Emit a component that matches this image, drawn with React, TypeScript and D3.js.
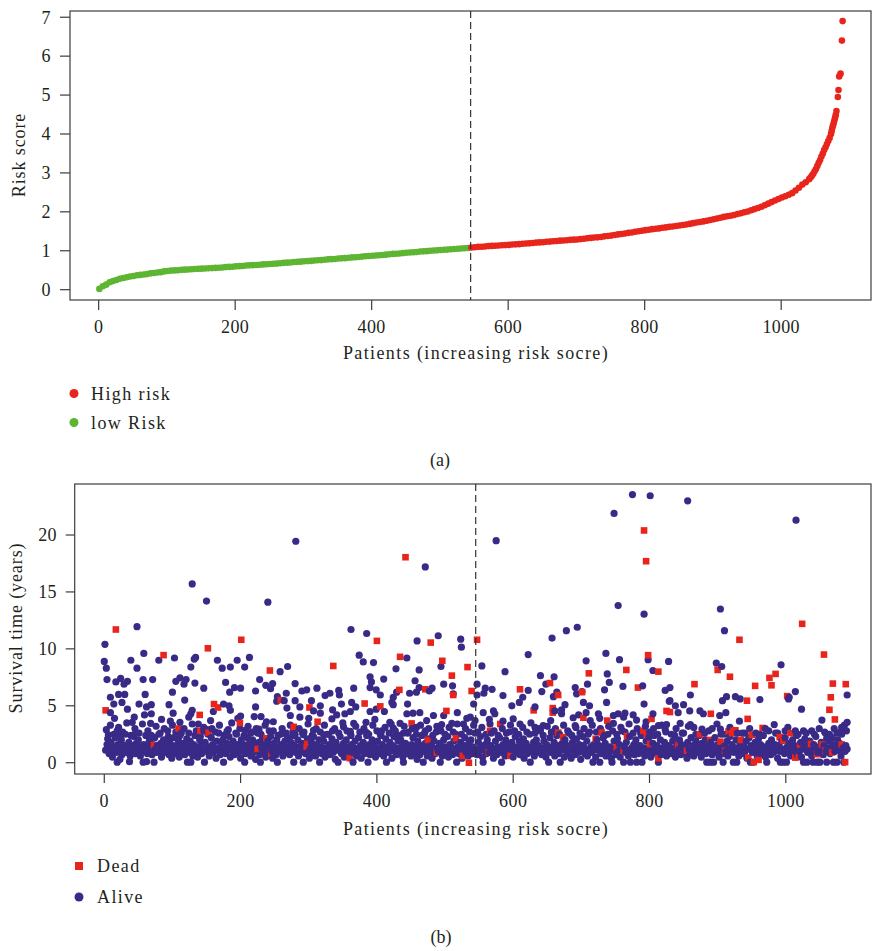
import React, { useEffect, useRef } from 'react';
import * as d3 from 'd3';

// Panel (a): sorted risk scores, read every 5 patients (patients 1, 6, 11, ...)
const lowRiskScores = [
  0.02, 0.09, 0.13, 0.19, 0.22, 0.25, 0.28, 0.30, 0.32, 0.34, 0.35, 0.37, 0.38, 0.39, 0.40, 0.42,
  0.43, 0.44, 0.45, 0.47, 0.48, 0.49, 0.495, 0.50, 0.51, 0.515, 0.52, 0.525, 0.53, 0.535, 0.54,
  0.545, 0.55, 0.555, 0.56, 0.565, 0.57, 0.58, 0.585, 0.59, 0.60, 0.605, 0.61, 0.62, 0.625, 0.63,
  0.635, 0.64, 0.65, 0.655, 0.66, 0.665, 0.67, 0.68, 0.69, 0.695, 0.70, 0.71, 0.715, 0.72, 0.73,
  0.735, 0.74, 0.75, 0.755, 0.76, 0.77, 0.78, 0.785, 0.79, 0.80, 0.805, 0.81, 0.82, 0.83, 0.835,
  0.84, 0.85, 0.86, 0.865, 0.87, 0.88, 0.885, 0.89, 0.90, 0.91, 0.92, 0.925, 0.93, 0.94, 0.95,
  0.955, 0.96, 0.97, 0.98, 0.985, 0.99, 1.00, 1.005, 1.01, 1.02, 1.025, 1.03, 1.04, 1.045, 1.05,
  1.06, 1.065, 1.07,
];
// patients 546, 551, ..., 1041
const highRiskScores = [
  1.085, 1.09, 1.10, 1.105, 1.11, 1.12, 1.125, 1.13, 1.135, 1.14,
  1.145, 1.15, 1.16, 1.165, 1.17, 1.18, 1.185, 1.19, 1.20, 1.21,
  1.215, 1.22, 1.23, 1.235, 1.245, 1.25, 1.26, 1.265, 1.27, 1.28,
  1.285, 1.29, 1.30, 1.31, 1.32, 1.33, 1.34, 1.345, 1.355, 1.37,
  1.38, 1.39, 1.405, 1.42, 1.43, 1.445, 1.46, 1.47, 1.49, 1.50,
  1.515, 1.53, 1.54, 1.555, 1.565, 1.575, 1.59, 1.60, 1.615, 1.625,
  1.635, 1.65, 1.66, 1.675, 1.69, 1.71, 1.725, 1.74, 1.755, 1.77,
  1.79, 1.81, 1.83, 1.85, 1.87, 1.885, 1.90, 1.92, 1.945, 1.965,
  1.99, 2.01, 2.04, 2.07, 2.10, 2.13, 2.17, 2.21, 2.25, 2.29,
  2.33, 2.37, 2.40, 2.44, 2.48, 2.55, 2.62, 2.70, 2.76, 2.84,
];
// steep tail [patient, score]
const riskTail = [
  [1043, 2.88], [1045, 2.93], [1047, 2.98], [1049, 3.04], [1051, 3.10], [1053, 3.18], [1055, 3.26],
  [1057, 3.33], [1059, 3.42], [1061, 3.50], [1063, 3.59], [1065, 3.66], [1067, 3.74], [1069, 3.82],
  [1071, 3.90], [1073, 4.00], [1074, 4.08], [1075, 4.16], [1076, 4.22], [1077, 4.28], [1078, 4.35],
  [1079, 4.42], [1080, 4.49], [1081, 4.59], [1083, 4.95], [1084, 5.13], [1085, 5.48], [1087, 5.55],
  [1089, 6.40], [1090, 6.90],
];
const cutoffPatient = 545;

// Panel (b): [patient, survival years]
const aliveUpper = [
  [129, 15.7], [150, 14.2], [240, 14.1], [48, 11.95], [1, 10.4], [0, 8.9], [3, 8.3], [58, 9.6], [39, 9.0],
  [48, 8.3], [80, 9.0], [103, 9.2], [127, 8.4], [132, 9.1], [134, 9.25], [166, 9.0], [173, 8.3], [185, 8.4],
  [195, 9.0], [206, 8.4], [213, 9.25], [228, 7.3], [4, 7.3], [17, 7.1], [24, 7.4], [29, 6.9], [34, 7.15],
  [57, 7.3], [71, 7.3], [105, 7.15], [111, 7.45], [117, 6.9], [120, 7.3], [133, 7.0], [146, 6.55], [178, 7.05],
  [184, 6.2], [191, 6.6], [200, 6.55], [222, 6.3], [237, 6.8], [244, 6.5], [9, 5.75], [21, 6.0], [30, 6.0],
  [60, 6.0], [100, 6.2], [14, 5.15], [26, 5.3], [34, 4.7], [51, 5.15], [69, 5.1], [95, 5.1], [118, 5.5],
  [9, 4.4], [59, 4.2], [69, 4.3], [101, 4.35], [127, 4.3], [129, 4.6], [124, 4.0], [160, 4.5], [175, 5.15],
  [183, 5.0], [185, 4.6], [200, 4.1], [222, 4.9], [220, 4.05], [230, 4.05], [44, 4.0], [41, 3.55], [68, 3.45],
  [97, 3.65], [111, 3.55], [138, 3.4], [146, 2.8], [180, 2.75], [207, 2.85], [215, 2.6], [227, 2.95], [6, 2.45],
  [19, 2.8], [24, 2.45], [46, 2.6], [15, 3.9], [84, 3.8], [156, 3.7], [196, 3.9], [238, 3.6], [62, 4.9],
  [281, 19.45], [471, 17.2], [362, 11.7], [385, 11.35], [459, 10.7], [490, 11.15], [523, 10.85], [524, 10.15],
  [374, 9.45], [380, 8.85], [395, 8.8], [444, 9.2], [428, 8.25], [462, 8.15], [494, 8.45], [258, 8.0], [269, 8.45],
  [390, 7.55], [392, 7.1], [410, 7.35], [456, 7.2], [462, 6.6], [498, 6.9], [511, 6.75], [512, 6.05], [247, 6.95],
  [280, 6.95], [290, 6.3], [297, 6.4], [312, 6.55], [324, 5.9], [331, 6.1], [344, 6.35], [345, 5.95], [366, 6.55],
  [254, 5.8], [267, 6.1], [390, 6.6], [399, 6.4], [405, 5.95], [424, 5.75], [429, 6.2], [448, 6.1], [458, 6.2],
  [477, 6.3], [481, 6.55], [253, 5.4], [264, 5.45], [280, 5.45], [304, 5.45], [317, 5.0], [348, 5.15], [363, 5.3],
  [422, 5.3], [424, 5.1], [445, 5.15], [268, 4.8], [287, 4.9], [307, 4.55], [317, 4.35], [335, 4.65], [361, 4.5],
  [369, 4.9], [390, 4.5], [399, 4.7], [411, 4.5], [444, 4.3], [453, 4.35], [463, 4.4], [483, 4.15], [498, 4.15],
  [518, 4.4], [273, 4.15], [287, 4.0], [334, 3.85], [341, 4.2], [353, 4.3], [366, 3.45], [384, 3.55], [419, 3.55],
  [434, 3.45], [458, 3.1], [471, 2.8], [495, 3.35], [510, 3.45], [527, 3.4], [248, 2.8], [263, 2.6], [277, 2.75],
  [292, 2.45], [307, 2.85], [322, 2.45], [335, 2.8], [351, 3.15], [361, 2.75], [385, 2.65], [407, 2.8], [424, 3.05],
  [439, 2.6], [300, 3.9], [397, 3.8], [473, 3.7], [532, 3.9],
  [775, 23.55], [801, 23.45], [748, 21.9], [575, 19.5], [754, 13.8], [792, 13.05], [657, 10.95], [678, 11.6],
  [694, 11.9], [622, 9.5], [707, 8.95], [736, 9.6], [756, 9.05], [798, 9.05], [805, 8.1], [828, 8.9], [554, 8.5],
  [588, 8.0], [640, 7.65], [660, 7.55], [648, 6.9], [738, 7.8], [741, 7.05], [790, 6.75], [709, 6.9], [547, 6.9],
  [559, 6.55], [569, 6.45], [557, 6.1], [547, 5.95], [585, 5.9], [622, 6.35], [642, 6.25], [664, 6.2], [659, 5.8],
  [691, 6.6], [693, 6.05], [701, 6.25], [734, 6.4], [761, 6.7], [792, 5.15], [823, 6.35], [829, 5.4], [542, 5.15],
  [598, 5.0], [609, 5.3], [614, 5.75], [632, 4.9], [661, 4.55], [671, 4.65], [676, 5.1], [703, 5.3], [712, 5.0],
  [737, 5.3], [556, 4.4], [573, 4.3], [571, 4.55], [671, 4.3], [696, 4.2], [707, 4.4], [725, 4.3], [747, 4.15],
  [754, 4.3], [764, 4.35], [776, 4.2], [805, 4.3], [537, 4.0], [544, 3.7], [585, 3.65], [600, 3.85], [610, 3.4],
  [632, 3.1], [644, 3.25], [688, 3.95], [691, 3.25], [713, 3.7], [747, 3.45], [762, 4.0], [781, 3.75], [813, 3.25],
  [825, 3.35], [565, 3.8], [655, 3.7], [727, 3.9], [795, 3.6],
  [856, 23.0], [1015, 21.3], [904, 13.5], [910, 11.6], [898, 8.75], [906, 8.45], [993, 8.6], [1014, 6.25],
  [1005, 5.75], [1004, 5.6], [1090, 5.95], [1023, 4.7], [962, 5.55], [907, 5.45], [913, 5.8], [926, 5.8],
  [933, 5.6], [830, 6.6], [860, 5.95], [830, 5.45], [838, 5.0], [850, 5.1], [859, 4.55], [842, 4.4], [874, 4.55],
  [879, 4.3], [903, 4.15], [912, 4.4], [932, 3.65], [1053, 3.75], [1090, 3.55], [845, 3.45], [860, 3.35],
  [865, 3.1], [877, 2.95], [887, 2.8], [899, 3.4], [904, 2.95], [940, 2.6], [956, 2.6], [975, 2.8], [983, 3.35],
  [999, 2.8], [1014, 2.8], [1026, 2.8], [1038, 2.8], [1060, 2.15], [1075, 2.6], [1082, 3.1],
];

const aliveBandLow = [
  [2, 1.1], [4, 1.6], [5, 2.1], [7, 0.8], [8, 1.3], [10, 1.8], [12, 0.5], [13, 1.0], [15, 1.4], [16, 2.2],
  [18, 0.9], [19, 0.05], [20, 1.6], [22, 1.2], [23, 0.3], [25, 2.0], [26, 0.7], [28, 1.1], [29, 1.5], [31, 2.5],
  [32, 0.9], [34, 1.3], [36, 1.8], [37, 0.1], [38, 0.6], [40, 1.0], [41, 1.5], [43, 2.3], [44, 1.2], [46, 0.8],
  [47, 1.7], [49, 1.1], [50, 2.0], [52, 1.4], [53, 0.6], [55, 1.0], [57, 0.05], [58, 1.6], [60, 1.2], [61, 2.4],
  [62, 0.1], [63, 0.8], [65, 1.4], [66, 1.9], [68, 1.1], [70, 0.7], [71, 1.6], [73, 0.05], [74, 2.2], [75, 1.2],
  [77, 0.9], [78, 1.5], [80, 2.5], [81, 1.0], [83, 1.7], [84, 0.5], [86, 1.3], [87, 2.0], [89, 0.9], [90, 1.5],
  [92, 1.1], [93, 2.8], [95, 0.7], [96, 1.8], [98, 1.3], [99, 0.4], [101, 1.0], [102, 2.2], [104, 1.5], [106, 0.8],
  [107, 1.2], [109, 1.9], [110, 0.5], [112, 1.4], [113, 2.6], [115, 1.0], [116, 1.7], [118, 0.7], [119, 1.2],
  [121, 2.1], [122, 0.05], [123, 1.5], [125, 0.9], [126, 1.9], [127, 0.05], [128, 1.2], [130, 0.6], [131, 1.6],
  [133, 2.4], [134, 1.0], [136, 1.4], [137, 0.5], [139, 1.1], [140, 2.0], [142, 1.5], [143, 0.8], [145, 1.2],
  [147, 0.05], [148, 1.8], [150, 1.0], [151, 2.9], [153, 1.4], [154, 0.6], [156, 1.1], [157, 2.2], [159, 1.6],
  [160, 0.9], [162, 1.3], [164, 0.4], [165, 1.9], [167, 1.1], [168, 2.6], [170, 0.7], [171, 1.5], [173, 1.0],
  [174, 2.0], [175, 0.05], [177, 1.3], [178, 0.8], [180, 1.7], [181, 1.1], [183, 2.3], [185, 0.5], [186, 1.4],
  [188, 1.0], [189, 1.9], [191, 0.7], [192, 1.2], [194, 2.5], [195, 1.6], [197, 0.9], [198, 1.3], [200, 0.4],
  [201, 2.0], [203, 1.1], [204, 1.6], [206, 0.05], [207, 0.8], [209, 1.4], [210, 2.2], [212, 1.0], [213, 1.7],
  [215, 0.6], [216, 1.2], [218, 2.0], [219, 0.9], [221, 1.5], [222, 0.3], [224, 1.1], [225, 2.6], [227, 1.8],
  [228, 0.7], [229, 0.05], [231, 1.3], [232, 2.1], [234, 1.0], [235, 1.6], [237, 0.5], [238, 1.2], [240, 1.9],
  [241, 0.8], [243, 1.4], [244, 2.3], [246, 1.0], [247, 0.4], [249, 1.7], [250, 1.2], [252, 0.7], [253, 2.0],
  [254, 0.05], [256, 1.4], [257, 1.0], [259, 2.5], [260, 1.6], [262, 0.6], [263, 1.2], [265, 1.9], [266, 0.9],
  [268, 1.4], [269, 2.2],
  [271, 1.3], [272, 0.7], [274, 1.8], [275, 1.0], [277, 2.4], [278, 0.05], [279, 1.5], [281, 0.9], [282, 1.2],
  [284, 2.0], [285, 0.6], [287, 1.4], [288, 1.0], [290, 1.7], [291, 2.6], [292, 0.05], [294, 1.2], [295, 0.8],
  [297, 1.5], [298, 2.1], [300, 1.0], [301, 0.4], [303, 1.3], [304, 1.8], [306, 0.9], [307, 2.3], [309, 1.2],
  [310, 0.6], [312, 1.6], [313, 1.0], [315, 2.0], [316, 0.05], [318, 1.4], [319, 0.8], [321, 1.1], [322, 1.9],
  [324, 0.5], [325, 1.3], [327, 2.5], [328, 1.0], [330, 1.6], [331, 0.7], [333, 1.2], [334, 2.1], [336, 0.9],
  [337, 1.5], [339, 0.3], [340, 1.8], [342, 1.1], [343, 0.05], [345, 1.4], [346, 2.3], [348, 0.8], [349, 1.2],
  [351, 1.7], [352, 0.5], [354, 1.0], [355, 2.0], [357, 1.4], [358, 0.7], [360, 1.1], [361, 2.6], [363, 1.6],
  [364, 0.9], [365, 0.05], [367, 1.3], [368, 1.9], [370, 0.6], [371, 1.2], [373, 2.2], [374, 1.0], [376, 1.5],
  [377, 0.4], [379, 1.1], [380, 1.8], [382, 0.8], [383, 1.3], [385, 2.4], [386, 1.0], [387, 0.05], [389, 1.6],
  [390, 0.7], [392, 1.2], [393, 2.0], [395, 0.9], [396, 1.5], [398, 0.5], [399, 1.1], [401, 1.9], [402, 1.3],
  [404, 0.8], [405, 2.5], [407, 1.0], [408, 1.6], [410, 0.6], [411, 1.2], [413, 2.1], [414, 0.05], [416, 1.4],
  [417, 0.9], [419, 1.8], [420, 1.1], [422, 0.4], [423, 1.5], [425, 2.3], [426, 1.0], [428, 1.3], [429, 0.7],
  [431, 1.9], [432, 1.2], [434, 0.9], [435, 2.0], [437, 1.5], [438, 0.5], [439, 0.05], [441, 1.1], [442, 1.7],
  [444, 0.8], [445, 2.6], [447, 1.3], [448, 1.0], [450, 0.6], [451, 1.6], [453, 2.2], [454, 1.1], [456, 0.8],
  [457, 1.4], [459, 0.3], [460, 1.9], [462, 1.2], [463, 0.7], [465, 1.5], [466, 2.4], [468, 0.05], [469, 1.0],
  [471, 1.7], [472, 1.3], [474, 0.6], [475, 2.1], [477, 1.1], [478, 0.9], [480, 1.5], [481, 0.4], [483, 1.2],
  [484, 1.9], [486, 0.8], [487, 2.7], [489, 1.3], [490, 1.0], [492, 1.7], [493, 0.05], [495, 1.1], [496, 0.6],
  [498, 2.0], [499, 1.4], [501, 0.9], [502, 1.2], [504, 2.3], [505, 0.5], [507, 1.6], [508, 1.0], [510, 1.3],
  [511, 0.7], [513, 1.9], [514, 1.1], [516, 2.5], [517, 0.05], [519, 1.4], [520, 0.8], [522, 1.2], [523, 1.8],
  [525, 0.4], [526, 1.0], [528, 1.5], [529, 2.2], [531, 0.9], [532, 1.3], [534, 0.6], [535, 1.7], [537, 1.1],
  [538, 2.0], [540, 0.8], [541, 1.4], [543, 1.0], [544, 2.6],
];

const aliveBandHigh = [
  [546, 1.2], [547, 0.7], [549, 1.8], [550, 1.0], [552, 2.3], [553, 1.4], [555, 0.5], [556, 0.05], [558, 1.1],
  [559, 1.6], [561, 0.8], [562, 2.0], [564, 1.3], [565, 0.9], [567, 1.5], [568, 2.6], [570, 1.0], [571, 0.4],
  [573, 1.2], [574, 1.9], [576, 0.7], [577, 1.4], [579, 1.1], [580, 2.2], [582, 0.9], [583, 0.05], [585, 1.6],
  [586, 1.2], [588, 0.6], [589, 2.0], [591, 1.0], [592, 1.5], [594, 2.7], [595, 0.8], [597, 1.3], [598, 1.8],
  [600, 0.5], [601, 1.1], [603, 2.3], [604, 1.4], [606, 0.9], [607, 1.2], [609, 1.9], [610, 0.7], [612, 1.5],
  [613, 1.0], [615, 2.1], [616, 0.4], [618, 1.3], [619, 1.7], [621, 0.8], [622, 1.1], [624, 2.5], [625, 0.05],
  [627, 1.4], [628, 1.0], [630, 1.8], [631, 0.6], [633, 1.2], [634, 2.0], [636, 0.9], [637, 1.5], [639, 1.1],
  [640, 2.8], [642, 0.7], [643, 1.3], [645, 1.9], [646, 1.0], [648, 0.5], [649, 1.6], [651, 1.2], [652, 0.05],
  [654, 2.2], [655, 0.9], [657, 1.4], [658, 1.0], [660, 1.8], [661, 0.6], [663, 1.2], [664, 2.4], [666, 1.5],
  [667, 0.8], [669, 0.05], [670, 1.1], [672, 1.7], [673, 1.3], [675, 0.5], [676, 2.0], [678, 1.0], [679, 1.5],
  [681, 0.8], [682, 2.6], [684, 1.2], [685, 0.4], [687, 1.8], [688, 1.0], [690, 1.4], [691, 0.7], [693, 2.1],
  [694, 1.2], [696, 0.9], [697, 1.6], [699, 0.3], [700, 1.1], [702, 2.3], [703, 1.5], [705, 0.8], [706, 1.2],
  [708, 1.9], [709, 0.6], [711, 1.0], [712, 2.7], [714, 1.4], [715, 0.9], [717, 0.05], [718, 1.6], [720, 1.2],
  [721, 0.5], [723, 2.0], [724, 1.1], [726, 1.5], [727, 0.05], [729, 0.8], [730, 1.3], [732, 2.2], [733, 1.0],
  [735, 1.7], [736, 0.6], [738, 1.2], [739, 2.5], [741, 0.9], [742, 1.4], [744, 0.4], [745, 0.05], [747, 1.1],
  [748, 1.9], [750, 1.3], [751, 0.7], [753, 2.1], [754, 1.0], [756, 1.6], [757, 0.5], [759, 1.2], [760, 2.8],
  [762, 0.05], [763, 1.4], [765, 0.9], [766, 1.8], [768, 1.1], [769, 0.6], [771, 2.3], [772, 0.05], [774, 1.3],
  [775, 1.0], [777, 1.6], [778, 0.7], [780, 2.0], [781, 0.05], [783, 1.2], [784, 0.8], [786, 1.5], [787, 2.6],
  [789, 0.05], [790, 1.0], [792, 1.3], [793, 0.6], [795, 1.9], [796, 1.1], [798, 0.9], [799, 2.2], [801, 1.4],
  [802, 0.5], [804, 1.0], [805, 1.7], [807, 2.4], [808, 1.2], [810, 0.8], [811, 1.5], [813, 0.05], [814, 1.1],
  [816, 2.0], [817, 0.7], [819, 1.3], [820, 1.0], [822, 1.8], [823, 2.9], [825, 0.6], [826, 1.2], [828, 1.5],
  [829, 0.9],
  [831, 1.3], [832, 0.8], [834, 1.9], [835, 1.1], [837, 2.4], [838, 0.5], [840, 1.5], [841, 1.0], [843, 1.2],
  [844, 2.0], [846, 0.7], [847, 1.6], [849, 1.1], [850, 2.6], [852, 0.9], [853, 1.4], [855, 0.4], [856, 1.8],
  [858, 1.2], [859, 0.7], [861, 2.2], [862, 1.0], [864, 1.5], [865, 0.6], [867, 1.2], [868, 1.9], [870, 0.9],
  [871, 1.4], [873, 2.4], [874, 1.1], [876, 0.5], [877, 1.7], [879, 1.0], [880, 1.3], [882, 2.0], [883, 0.8],
  [884, 0.05], [886, 1.5], [887, 1.1], [889, 0.05], [890, 1.8], [892, 0.7], [893, 1.2], [894, 0.05], [896, 2.2],
  [897, 1.4], [899, 0.9], [900, 1.6], [902, 0.5], [903, 1.1], [905, 2.5], [906, 1.3], [908, 0.05], [909, 0.8],
  [911, 1.5], [912, 1.0], [914, 1.9], [915, 0.6], [917, 1.2], [918, 2.3], [920, 1.0], [921, 1.6], [923, 0.05],
  [924, 0.9], [926, 1.3], [927, 2.0], [928, 0.05], [930, 1.1], [931, 0.6], [933, 1.7], [934, 1.2], [936, 2.6],
  [937, 0.8], [939, 1.4], [940, 1.0], [942, 1.9], [943, 0.4], [945, 1.2], [946, 2.2], [948, 0.05], [949, 1.5],
  [951, 0.9], [952, 0.05], [954, 1.3], [955, 1.8], [957, 1.0], [958, 0.6], [960, 2.1], [961, 1.2], [963, 1.6],
  [964, 0.8], [966, 1.1], [967, 2.4], [969, 1.4], [970, 0.5], [972, 0.05], [973, 1.0], [975, 1.7], [976, 1.2],
  [978, 0.7], [979, 2.0], [981, 1.3], [982, 0.9], [984, 1.6], [985, 2.6], [987, 1.1], [988, 0.4], [990, 1.5],
  [991, 1.0], [992, 0.05], [994, 1.9], [995, 1.2], [996, 0.05], [998, 0.8], [999, 2.2], [1001, 0.05], [1002, 1.4],
  [1004, 1.0], [1005, 1.7], [1007, 0.6], [1008, 1.2], [1010, 2.0], [1011, 0.9], [1013, 1.5], [1014, 1.1],
  [1016, 2.4], [1017, 0.7], [1019, 1.3], [1020, 1.0], [1022, 1.8], [1023, 0.5], [1025, 1.2], [1026, 0.05],
  [1028, 2.1], [1029, 1.5], [1031, 0.05], [1032, 0.9], [1034, 1.3], [1035, 1.9], [1037, 1.0], [1038, 0.6],
  [1040, 0.05], [1041, 1.6], [1043, 1.2], [1044, 2.3], [1046, 0.05], [1047, 0.9], [1049, 1.4], [1050, 0.05],
  [1052, 1.8], [1053, 1.1], [1055, 0.7], [1056, 1.5], [1058, 2.6], [1059, 1.0], [1060, 0.05], [1062, 1.3],
  [1063, 1.9], [1065, 0.8], [1066, 1.2], [1068, 2.2], [1069, 1.6], [1070, 0.05], [1072, 1.0], [1073, 1.4],
  [1075, 0.05], [1076, 2.0], [1078, 1.1], [1079, 1.7], [1081, 0.6], [1082, 2.5], [1084, 1.3], [1085, 0.05],
  [1087, 1.0], [1088, 1.5], [1089, 2.8], [1090, 1.2],
];

// scattered points along the top edge of the dense band
const aliveBandTop = [
  [3, 2.9], [9, 3.3], [14, 2.5], [21, 3.1], [27, 2.7], [33, 3.5], [39, 2.4], [45, 3.0], [51, 2.6], [56, 3.4],
  [64, 2.8], [69, 2.4], [76, 3.2], [82, 2.6], [88, 3.0], [94, 2.3], [100, 3.3], [105, 2.7], [111, 2.4], [117, 3.0],
  [124, 2.6], [129, 3.4], [135, 2.8], [141, 2.3], [146, 3.1], [152, 2.5], [158, 3.0], [163, 2.7], [169, 3.3],
  [176, 2.4], [182, 2.9], [187, 3.5], [193, 2.6], [199, 3.0], [205, 2.4], [211, 3.2], [217, 2.7], [223, 3.0],
  [230, 2.5], [236, 3.3], [242, 2.8], [248, 3.6], [255, 2.4], [261, 3.0], [267, 2.6], [273, 3.3], [280, 2.5],
  [286, 3.0], [293, 2.7], [299, 3.4], [305, 2.4], [311, 3.0], [317, 2.7], [323, 3.3], [329, 2.5], [338, 3.0],
  [344, 2.6], [350, 3.5], [356, 2.8], [362, 2.4], [369, 3.2], [375, 2.7], [381, 3.0], [388, 2.5], [394, 3.3],
  [400, 2.8], [406, 2.4], [412, 3.1], [418, 2.6], [421, 3.4], [427, 2.8], [433, 2.4], [440, 3.2], [446, 2.7],
  [452, 3.0], [458, 2.5], [464, 3.3], [470, 2.6], [476, 3.0], [482, 2.4], [488, 3.2], [494, 2.8], [500, 2.5],
  [506, 3.1], [512, 2.7], [518, 3.4], [524, 2.5], [530, 3.0], [536, 2.7], [542, 3.3],
  [548, 2.7], [554, 3.1], [560, 2.5], [566, 3.4], [572, 2.8], [578, 2.4], [584, 3.0], [590, 2.6], [596, 3.3],
  [602, 2.8], [608, 2.5], [614, 3.1], [620, 2.7], [626, 3.5], [632, 2.6], [638, 3.0], [644, 2.4], [650, 3.2],
  [656, 2.7], [662, 3.0], [668, 2.5], [674, 3.3], [680, 2.8], [686, 2.4], [692, 3.1], [698, 2.6], [704, 3.0],
  [710, 2.5], [716, 3.3], [722, 2.7], [728, 3.0], [734, 2.4], [740, 3.2], [746, 2.8], [752, 2.5], [758, 3.1],
  [764, 2.7], [770, 3.4], [776, 2.6], [782, 3.0], [788, 2.4], [794, 3.2], [800, 2.7], [806, 3.0], [812, 2.5],
  [818, 3.3], [824, 2.7], [832, 2.5], [839, 3.0], [848, 2.6], [857, 3.2], [868, 2.5], [881, 2.6], [892, 3.0],
  [910, 2.5], [918, 3.1], [929, 2.6], [947, 3.0], [962, 2.5], [970, 3.0], [988, 2.6], [1003, 3.1], [1018, 2.5],
  [1030, 2.6], [1042, 2.5], [1049, 3.0], [1057, 2.7], [1064, 2.5], [1071, 3.0], [1080, 2.7], [1086, 3.3],
];

const deadPoints = [
  [17, 11.7], [87, 9.45], [152, 10.05], [201, 10.8], [243, 8.1], [2, 4.6], [140, 4.2], [161, 5.15], [167, 4.85],
  [199, 3.5], [109, 3.0], [141, 2.8], [153, 2.65], [73, 1.55], [225, 1.2], [245, 0.8], [238, 2.15], [259, 5.5],
  [442, 18.05], [400, 10.7], [479, 10.55], [336, 8.5], [434, 9.3], [496, 8.95], [533, 8.4], [510, 7.65],
  [433, 6.4], [471, 6.45], [512, 5.95], [301, 4.85], [382, 5.2], [405, 4.95], [502, 4.55], [313, 3.6],
  [278, 3.15], [451, 3.45], [475, 2.0], [516, 2.15], [298, 1.65], [297, 1.4], [360, 0.4], [488, 0.9], [526, 0.6],
  [535, 0.0],
  [792, 20.4], [795, 17.7], [547, 10.8], [798, 9.45], [766, 8.15], [711, 7.85], [813, 8.0], [654, 7.0], [610, 6.45],
  [666, 5.95], [701, 6.2], [783, 6.6], [539, 6.3], [630, 4.6], [658, 4.8], [658, 4.4], [703, 3.95], [738, 3.7],
  [803, 3.85], [825, 4.55], [830, 4.45], [566, 2.8], [581, 3.4], [666, 2.65], [673, 2.25], [721, 2.1], [791, 2.8],
  [796, 2.5], [801, 1.65], [762, 1.05], [813, 0.4], [564, 0.9], [596, 0.6], [752, 1.35], [730, 2.65], [767, 2.35],
  [1024, 12.2], [932, 10.8], [1056, 9.5], [900, 8.15], [918, 7.55], [976, 7.45], [985, 7.8], [979, 6.8], [955, 6.75],
  [866, 6.9], [1069, 6.95], [1088, 6.9], [1002, 5.85], [1066, 5.75], [943, 5.45], [1064, 4.65], [1072, 3.8],
  [890, 4.3], [944, 3.85], [966, 3.05], [923, 2.8], [916, 2.75], [921, 2.6], [904, 1.85], [911, 1.05], [934, 2.0],
  [950, 2.45], [991, 2.25], [996, 1.95], [1007, 2.6], [1021, 1.6], [1037, 1.65], [1053, 1.6], [1058, 1.05],
  [1082, 1.6], [945, 0.45], [953, 0.05], [960, 0.25], [1014, 0.45], [1019, 0.5], [1046, 0.75], [1068, 0.9],
  [1087, 0.05], [842, 1.5], [855, 1.05], [874, 2.5], [889, 2.0], [926, 2.85],
];

const patientTicks = [0, 200, 400, 600, 800, 1000];
const riskTicks = [0, 1, 2, 3, 4, 5, 6, 7];
const survivalTicks = [0, 5, 10, 15, 20];

const FONT = '"Liberation Serif", "Times New Roman", serif';
const INK = '#231f20';
const AXIS = '#3c3c3c';
const GREEN = '#5db532';
const RED = '#e8251c';
const NAVY = '#3a2a88';
const WORD_SPACING = 1.4;

export default function App() {
  const svgRef = useRef<SVGSVGElement>(null);

  useEffect(() => {
    const svg = d3.select(svgRef.current);
    svg.selectAll('*').remove();
    svg.attr('font-family', FONT);

    const frame = (x: any, y: any, xTicks: number[], yTicks: number[], box: any, tickLen: number, yLabelX: number) => {
      const g = svg.append('g');
      g.append('rect').attr('x', box.l).attr('y', box.t).attr('width', box.r - box.l).attr('height', box.b - box.t)
        .attr('fill', 'none').attr('stroke', AXIS).attr('stroke-width', 1.2);
      xTicks.forEach(t => {
        g.append('line').attr('x1', x(t)).attr('x2', x(t)).attr('y1', box.b).attr('y2', box.b + tickLen)
          .attr('stroke', AXIS).attr('stroke-width', 1.2);
        g.append('text').attr('x', x(t)).attr('y', box.b + 33).attr('text-anchor', 'middle')
          .attr('font-size', 18).attr('letter-spacing', 0.4).attr('fill', INK).text(t);
      });
      yTicks.forEach(t => {
        g.append('line').attr('x1', box.l - tickLen).attr('x2', box.l).attr('y1', y(t)).attr('y2', y(t))
          .attr('stroke', AXIS).attr('stroke-width', 1.2);
        g.append('text').attr('x', yLabelX).attr('y', y(t)).attr('dy', '0.35em').attr('text-anchor', 'end')
          .attr('font-size', 18).attr('letter-spacing', 0.4).attr('fill', INK).text(t);
      });
      return g;
    };

    // ---- Panel (a): risk score curve
    const boxA = { l: 70, r: 871, t: 11, b: 300 };
    const xa = d3.scaleLinear().domain([-42, 1131.6]).range([boxA.l, boxA.r]);
    const ya = d3.scaleLinear().domain([-0.265, 7.16]).range([boxA.b, boxA.t]);
    frame(xa, ya, patientTicks, riskTicks, boxA, 10, 51);

    const riskPts = [
      ...lowRiskScores.map((v, i) => ({ p: 1 + 5 * i, v })),
      ...highRiskScores.map((v, i) => ({ p: 546 + 5 * i, v })),
      ...riskTail.map(([p, v]) => ({ p, v })),
    ];
    svg.append('g').selectAll('circle').data(riskPts).join('circle')
      .attr('cx', d => xa(d.p)).attr('cy', d => ya(d.v)).attr('r', 3.3)
      .attr('fill', d => d.p > cutoffPatient ? RED : GREEN);

    svg.append('line').attr('x1', xa(cutoffPatient)).attr('x2', xa(cutoffPatient))
      .attr('y1', boxA.t).attr('y2', boxA.b).attr('stroke', '#333').attr('stroke-width', 1.2)
      .attr('stroke-dasharray', '7,4');

    svg.append('text').attr('x', 476).attr('y', 359).attr('text-anchor', 'middle').attr('font-size', 18)
      .attr('letter-spacing', WORD_SPACING).attr('fill', INK).text('Patients (increasing risk socre)');
    svg.append('text').attr('transform', 'translate(25,155) rotate(-90)').attr('text-anchor', 'middle')
      .attr('font-size', 18).attr('letter-spacing', 0.9).attr('fill', INK).text('Risk score');

    const legA = [{ label: 'High risk', color: RED, y: 393.5 }, { label: 'low Risk', color: GREEN, y: 422.5 }];
    legA.forEach(d => {
      svg.append('circle').attr('cx', 74).attr('cy', d.y).attr('r', 4.5).attr('fill', d.color);
      svg.append('text').attr('x', 91).attr('y', d.y + 6.5).attr('font-size', 18).attr('letter-spacing', WORD_SPACING)
        .attr('fill', INK).text(d.label);
    });
    svg.append('text').attr('x', 440).attr('y', 466).attr('text-anchor', 'middle').attr('font-size', 18)
      .attr('fill', INK).text('(a)');

    // ---- Panel (b): survival scatter
    const boxB = { l: 74.7, r: 871, t: 484, b: 774 };
    const xb = d3.scaleLinear().domain([-43.4, 1125]).range([boxB.l, boxB.r]);
    const yb = d3.scaleLinear().domain([-0.99, 24.48]).range([boxB.b, boxB.t]);
    frame(xb, yb, patientTicks, survivalTicks, boxB, 9, 57);

    const pts = [
      ...aliveUpper.map(([p, v]) => ({ p, v, dead: false })),
      ...aliveBandLow.map(([p, v]) => ({ p, v, dead: false })),
      ...aliveBandHigh.map(([p, v]) => ({ p, v, dead: false })),
      ...aliveBandTop.map(([p, v]) => ({ p, v, dead: false })),
      ...deadPoints.map(([p, v]) => ({ p, v, dead: true })),
    ].sort((a, b) => a.p - b.p);

    const gb = svg.append('g');
    pts.forEach(d => {
      if (d.dead) {
        gb.append('rect').attr('x', xb(d.p) - 3.3).attr('y', yb(d.v) - 3.3).attr('width', 6.6).attr('height', 6.6)
          .attr('fill', RED);
      } else {
        gb.append('circle').attr('cx', xb(d.p)).attr('cy', yb(d.v)).attr('r', 3.6).attr('fill', NAVY);
      }
    });

    svg.append('line').attr('x1', xb(cutoffPatient)).attr('x2', xb(cutoffPatient))
      .attr('y1', boxB.t).attr('y2', boxB.b).attr('stroke', '#333').attr('stroke-width', 1.2)
      .attr('stroke-dasharray', '7,4');

    svg.append('text').attr('x', 476).attr('y', 835).attr('text-anchor', 'middle').attr('font-size', 18)
      .attr('letter-spacing', WORD_SPACING).attr('fill', INK).text('Patients (increasing risk socre)');
    svg.append('text').attr('transform', 'translate(22,628) rotate(-90)').attr('text-anchor', 'middle')
      .attr('font-size', 18).attr('letter-spacing', 0.9).attr('fill', INK).text('Survival time (years)');

    svg.append('rect').attr('x', 75).attr('y', 862).attr('width', 8).attr('height', 8).attr('fill', RED);
    svg.append('text').attr('x', 97).attr('y', 872).attr('font-size', 18).attr('letter-spacing', WORD_SPACING)
      .attr('fill', INK).text('Dead');
    svg.append('circle').attr('cx', 79).attr('cy', 897).attr('r', 4.5).attr('fill', NAVY);
    svg.append('text').attr('x', 97).attr('y', 903).attr('font-size', 18).attr('letter-spacing', WORD_SPACING)
      .attr('fill', INK).text('Alive');
    svg.append('text').attr('x', 441).attr('y', 943).attr('text-anchor', 'middle').attr('font-size', 18)
      .attr('fill', INK).text('(b)');
  }, []);

  return (
    <div style={{ position: 'absolute', left: 0, top: 0 }}>
      <svg ref={svgRef} width={872} height={951} style={{ display: 'block', background: '#fff' }} />
    </div>
  );
}
